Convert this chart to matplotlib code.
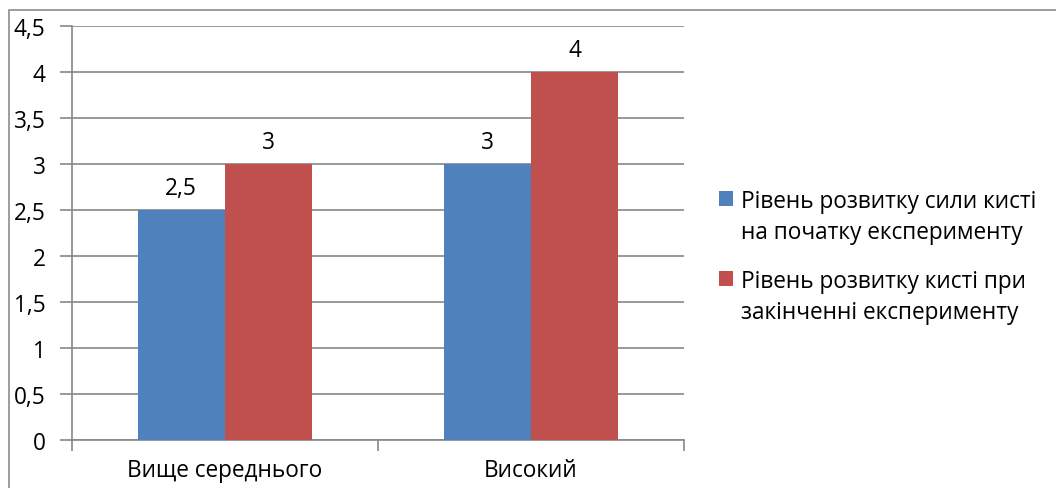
import matplotlib.pyplot as plt
from matplotlib.patches import Rectangle
import numpy as np

plt.rcParams["font.family"] = ["Open Sans", "DejaVu Sans"]

categories = ["Вище середнього", "Високий"]
series_names = [
    "Рівень розвитку сили кисті\nна початку експерименту",
    "Рівень розвитку кисті при\nзакінченні експерименту",
]
start_values = [2.5, 3]
end_values = [3, 4]
y_ticks = [0, 0.5, 1, 1.5, 2, 2.5, 3, 3.5, 4, 4.5]
y_tick_labels = ["0", "0,5", "1", "1,5", "2", "2,5", "3", "3,5", "4", "4,5"]

W, H = 1056, 489
FS = 16.3
fig = plt.figure(figsize=(W / 100, H / 100), dpi=100)

# outer chart frame (right and bottom edges are cut off)
fig.patches.append(Rectangle((9 / W, -0.1), 1.2, (H - 11) / H + 0.1,
                             transform=fig.transFigure, fill=False,
                             edgecolor="#8c8c8c", linewidth=1.2))

ax = fig.add_axes([72 / W, (H - 441) / H, (684 - 72) / W, (441 - 27) / H])

grid_color = "#878787"
blue = "#4F81BD"
red = "#C0504D"

x = np.arange(len(categories))
bw = 1 / 3.5
bars1 = ax.bar(x - bw / 2, start_values, bw, color=blue, zorder=3,
               label=series_names[0])
bars2 = ax.bar(x + bw / 2, end_values, bw, color=red, zorder=3,
               label=series_names[1])

for bars, vals in ((bars1, start_values), (bars2, end_values)):
    for b, v in zip(bars, vals):
        ax.annotate(f"{v:g}".replace(".", ","),
                    (b.get_x() + b.get_width() / 2, v),
                    xytext=(0, 7), textcoords="offset points",
                    ha="center", va="bottom", fontsize=FS, color="black")

ax.set_xlim(-0.5, 1.5)
ax.set_ylim(0, 4.5)
ax.set_yticks(y_ticks)
ax.set_yticklabels(y_tick_labels, fontsize=FS)
ax.yaxis.grid(True, color=grid_color, linewidth=1.2, zorder=0)
ax.set_axisbelow(True)

ax.set_xticks([-0.5, 0.5, 1.5])
ax.set_xticklabels([])
ax.set_xticks(x, minor=True)
ax.set_xticklabels(categories, minor=True, fontsize=FS)
ax.tick_params(axis="x", which="minor", length=0, pad=13)
ax.tick_params(axis="x", which="major", length=8, width=1.2, color=grid_color)
ax.tick_params(axis="y", length=9, width=1.2, color=grid_color, pad=10)

for side in ("top", "right"):
    ax.spines[side].set_visible(False)
for side in ("left", "bottom"):
    ax.spines[side].set_color(grid_color)
    ax.spines[side].set_linewidth(1.2)

leg = fig.legend(loc="upper left", bbox_to_anchor=(719 / W, (H - 190) / H),
                 frameon=False, fontsize=FS, handlelength=0.62,
                 handleheight=0.62, handletextpad=0.35, labelspacing=1.1,
                 borderaxespad=0, borderpad=0)
for t in leg.get_texts():
    t.set_linespacing(1.4)
# keep the colour square level with the first line of each label
for h in leg.legend_handles:
    h.set_y(h.get_y() + 14)

fig.savefig("out.png", dpi=100)
